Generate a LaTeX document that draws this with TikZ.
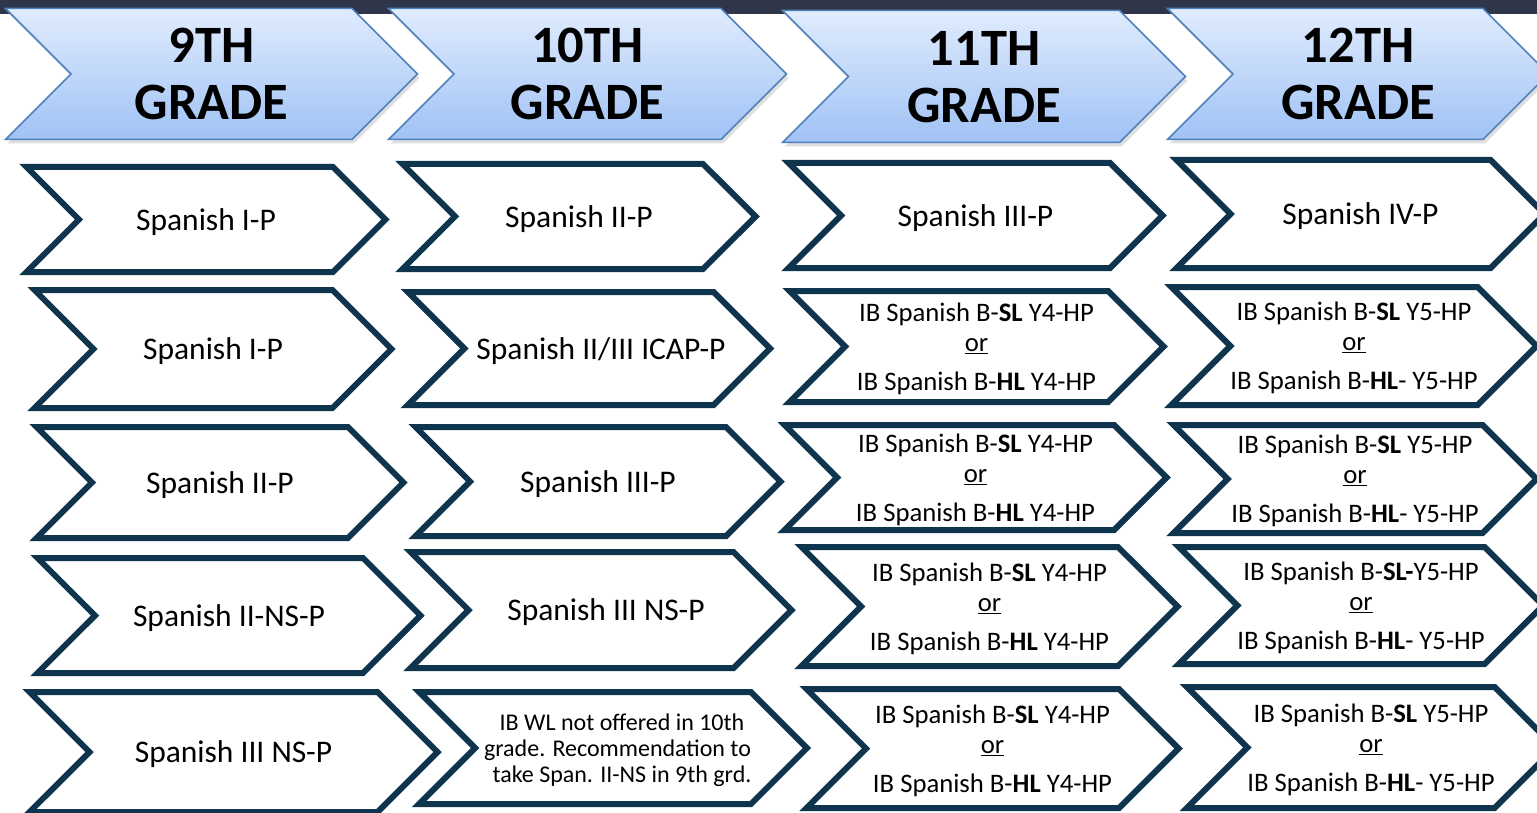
\documentclass[tikz,border=0pt]{standalone}
\usepackage{fontspec}
\setmainfont{Carlito}
\usepackage{xcolor}
\usepackage{tikz}
\usetikzlibrary{shapes.symbols, shadows, positioning}
\definecolor{topbar}{RGB}{47,54,73}
\definecolor{gradeline}{RGB}{79,129,189}
\definecolor{gradetop}{RGB}{224,236,253}
\definecolor{gradebot}{RGB}{160,194,245}
\definecolor{courseline}{RGB}{14,52,78}
\tikzset{
    chevron/.style = {shape=signal, signal from=west, signal to=east, signal pointer angle=90,
      inner sep=0pt, outer sep=0pt, align=center, text depth=0pt},
    gradenode/.style = {chevron, draw=gradeline, line width=1.5pt, top color=gradetop, bottom color=gradebot,
      font=\fontsize{52.5}{57}\selectfont\bfseries,
      drop shadow={opacity=0.25, shadow xshift=2pt, shadow yshift=-4pt}},
    coursenode/.style = {chevron, draw=courseline, line width=6pt, fill=white, font=\fontsize{31.5}{36}\selectfont},
    ibnode/.style = {coursenode, font=\fontsize{26.7}{30}\selectfont},
    notenode/.style = {coursenode, font=\fontsize{24}{26}\selectfont}
}

\begin{document}
\begin{tikzpicture}[x=1pt, y=-1pt]
\useasboundingbox (0,0) rectangle (1537,813);
\fill[white] (0,0) rectangle (1537,813);
\fill[topbar] (0,0) rectangle (1537,14);

% grade headers
\node[gradenode, minimum width=412pt, minimum height=131pt, name=g9] at (211.5,74) {9TH\\GRADE};
\node[gradenode, minimum width=398pt, minimum height=131pt, name=g10] at (587.5,74) {10TH\\GRADE};
\node[gradenode, minimum width=403pt, minimum height=132pt, name=g11] at (984,76.5) {11TH\\GRADE};
\node[gradenode, minimum width=381pt, minimum height=131pt, name=g12] at (1358,74) {12TH\\GRADE};

% 9th grade
\node[coursenode, minimum width=359pt, minimum height=105pt, name=nineA] at (206,219.5) {Spanish I-P};
\node[coursenode, minimum width=357pt, minimum height=118pt, name=nineB] at (213,349) {Spanish I-P};
\node[coursenode, minimum width=367pt, minimum height=111pt, name=nineC] at (220,482.5) {Spanish II-P};
\node[coursenode, minimum width=383pt, minimum height=115pt, name=nineD] at (229,615.5) {Spanish II-NS-P};
\node[coursenode, minimum width=408pt, minimum height=120pt, name=nineE] at (233.5,752) {Spanish III NS-P};

% 10th grade
\node[coursenode, minimum width=353pt, minimum height=105pt, name=tenA] at (579,216.5) {Spanish II-P};
\node[coursenode, minimum width=353pt, minimum height=113pt, name=tenB] at (589,348.5)
  {\hspace*{12pt}Spanish II/III ICAP-P\hspace*{-12pt}};
\node[coursenode, minimum width=365pt, minimum height=109pt, name=tenC] at (598,481.5) {Spanish III-P};
\node[coursenode, minimum width=381pt, minimum height=116pt, name=tenD] at (601,610) {\hspace*{10pt}Spanish III NS-P};
\node[notenode, minimum width=379pt, minimum height=112pt, name=tenE] at (613,748)
  {\hspace*{9pt}IB WL not offered in 10th\hspace*{-9pt}\\\hspace*{9pt}grade. Recommendation to\hspace*{-9pt}\\
   \hspace*{9pt}take Span. II-NS in 9th grd.\hspace*{-9pt}};

% 11th grade
\node[coursenode, minimum width=374pt, minimum height=105pt, name=elevA] at (975.5,215.5) {Spanish III-P};
\node[ibnode, minimum width=374pt, minimum height=111pt, name=elevB] at (976.5,346.5)
  {IB Spanish B-\textbf{SL} Y4-HP\\\underline{or}\\[9pt]IB Spanish B-\textbf{HL} Y4-HP};
\node[ibnode, minimum width=382pt, minimum height=105pt, name=elevC] at (975.5,477.5)
  {IB Spanish B-\textbf{SL} Y4-HP\\\underline{or}\\[9pt]IB Spanish B-\textbf{HL} Y4-HP};
\node[ibnode, minimum width=376pt, minimum height=119pt, name=elevD] at (989.5,606.5)
  {IB Spanish B-\textbf{SL} Y4-HP\\\underline{or}\\[9pt]IB Spanish B-\textbf{HL} Y4-HP};
\node[ibnode, minimum width=372pt, minimum height=119pt, name=elevE] at (992.5,748.5)
  {IB Spanish B-\textbf{SL} Y4-HP\\\underline{or}\\[9pt]IB Spanish B-\textbf{HL} Y4-HP};

% 12th grade
\node[coursenode, minimum width=368pt, minimum height=108pt, name=twelA] at (1360.5,214) {Spanish IV-P};
\node[ibnode, minimum width=359pt, minimum height=118pt, name=twelB] at (1354,346)
  {IB Spanish B-\textbf{SL} Y5-HP\\\underline{or}\\[9pt]IB Spanish B-\textbf{HL}- Y5-HP};
\node[ibnode, minimum width=363pt, minimum height=108pt, name=twelC] at (1355,479)
  {IB Spanish B-\textbf{SL} Y5-HP\\\underline{or}\\[9pt]IB Spanish B-\textbf{HL}- Y5-HP};
\node[ibnode, minimum width=355pt, minimum height=117pt, name=twelD] at (1361,605.5)
  {IB Spanish B-\textbf{SL-}Y5-HP\\\underline{or}\\[9pt]IB Spanish B-\textbf{HL}- Y5-HP};
\node[ibnode, minimum width=359pt, minimum height=121pt, name=twelE] at (1371,747.5)
  {IB Spanish B-\textbf{SL} Y5-HP\\\underline{or}\\[9pt]IB Spanish B-\textbf{HL}- Y5-HP};
\end{tikzpicture}
\end{document}
